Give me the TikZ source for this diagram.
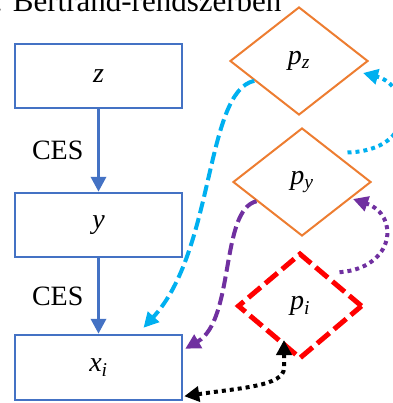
\documentclass[tikz,border=0pt]{standalone}
\usepackage{fontspec}
\setmainfont{Liberation Serif}
\usetikzlibrary{arrows.meta,shapes.geometric,calc}
\definecolor{boxblue}{HTML}{4472C4}
\definecolor{dorange}{HTML}{ED7D31}
\definecolor{cyanb}{HTML}{00B0F0}
\definecolor{purp}{HTML}{7030A0}
\begin{document}
\begin{tikzpicture}[x=1pt,y=-1pt,
  >={Triangle[length=15pt,width=15pt]},
  txt/.style={font=\fontsize{28}{32}\selectfont},
  levelbox/.style={draw=boxblue, line width=2.5pt, minimum width=167pt, minimum height=64pt, inner sep=0pt, txt},
  pricediam/.style={diamond, draw=dorange, line width=2pt, minimum width=138pt, minimum height=108pt, inner sep=0pt, txt},
  cesarrow/.style={draw=boxblue, line width=3.5pt, ->},
  dashedconn/.style={line width=4pt, dash pattern=on 12pt off 5pt},
  dottedconn/.style={line width=4pt, dash pattern=on 4pt off 4pt}
]
\useasboundingbox (0,0) rectangle (392,403);
\node[anchor=base east, font=\fontsize{31}{34}\selectfont] (title) at (285,12) {. Bertrand-rendszerben};

\node[levelbox] (z) at (98.5,76) {\textit{z}};
\node[levelbox] (y) at (98.5,225) {\textit{y}};
\node[levelbox, minimum height=65pt] (xi) at (98.5,367.5) {\textit{x}\textsubscript{\textit{i}}};

\draw[cesarrow] (z.south) -- node[midway, left=10pt, txt] (ces1) {CES} (y.north);
\draw[cesarrow] (y.south) -- node[midway, left=10pt, txt] (ces2) {CES} (xi.north);

\node[pricediam] (pz) at (299,61) {\textit{p}\textsubscript{\textit{z}}};
\node[pricediam] (py) at (302,182) {\textit{p}\textsubscript{\textit{y}}};
\node[diamond, draw=red, line width=5pt, dash pattern=on 16pt off 6pt, minimum width=125pt, minimum height=106pt, inner sep=0pt, txt] (pi) at (300,306) {\textit{p}\textsubscript{\textit{i}}};

% cyan dashed: p_z -> x_i
\draw[cyanb, dashedconn, ->] ($(pz.west)!0.36!(pz.south)$) .. controls (205,92) and (215,250) .. ($(xi.north)+(45,-6)$);
% purple dashed: p_y -> x_i
\draw[purp, dashedconn, ->] ($(py.west)!0.35!(py.south)$) .. controls (220,210) and (235,320) .. ($(xi.north east)+(2,15)$);
% cyan dotted: p_y -> p_z
\draw[cyanb, dottedconn, ->] ($(py.north east)+(10.5,-2)$) .. controls (420,150) and (410,85) .. ($(pz.east)+(-6,12)$);
% purple dotted: p_i -> p_y
\draw[purp, dottedconn, ->] ($(pi.north east)+(7,-6)$) .. controls (395,268) and (400,215) .. ($(py.east)+(-19,17)$);
% black dotted: p_i <-> x_i
\draw[black, dottedconn, <->] ($(pi.center)+(-16,34)$) -- ($(pi.center)+(-16,62)$) .. controls ($(pi.center)+(-16,80)$) and (240,388) .. ($(xi.south east)+(1,-5)$);
\end{tikzpicture}
\end{document}
